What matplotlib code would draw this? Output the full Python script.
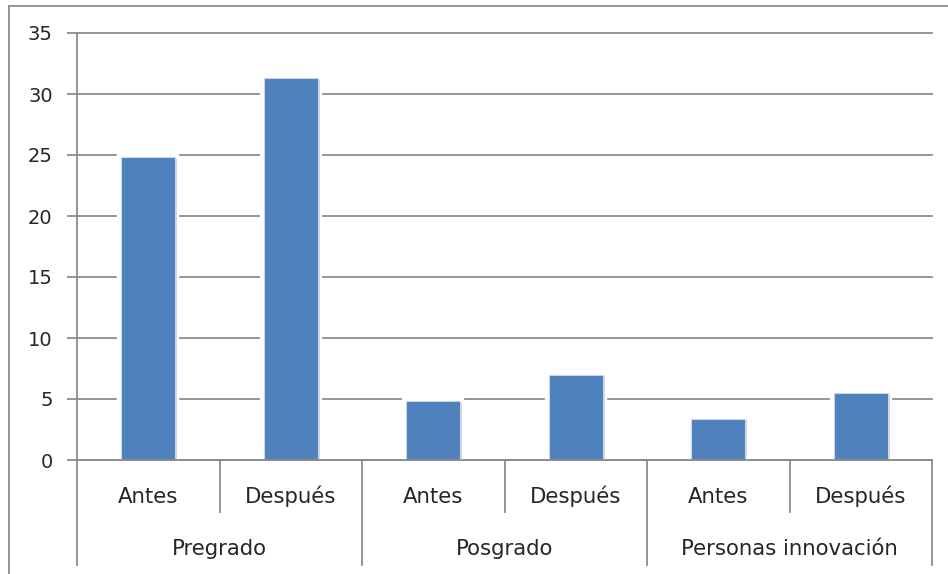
import matplotlib
matplotlib.use("Agg")
import matplotlib.pyplot as plt
from matplotlib.lines import Line2D
from matplotlib import patheffects as pe
from matplotlib.transforms import blended_transform_factory

# Data
groups = ["Pregrado", "Posgrado", "Personas innovación"]
periods = ["Antes", "Después"]
values = [24.8, 31.3, 4.8, 7.0, 3.4, 5.5]
y_ticks = [0, 5, 10, 15, 20, 25, 30, 35]

W, H = 948, 574
fig = plt.figure(figsize=(W / 100, H / 100), dpi=100)
fig.patch.set_facecolor("white")

# plot area in pixel coordinates
left_px, right_px, top_px, base_px = 77, 932, 33, 460
ax = fig.add_axes([left_px / W, 1 - base_px / H,
                   (right_px - left_px) / W, (base_px - top_px) / H])

grid_col = "#8c8c8c"
txt_col = "#262626"
font = "DejaVu Sans"

n = len(values)
x = list(range(n))
bars = ax.bar(x, values, width=0.38, color="#4f81bd", edgecolor="#c9d7ea",
              linewidth=0.8, zorder=3)
for b in bars:
    b.set_path_effects([
        pe.Stroke(linewidth=6, foreground="white"),
        pe.SimplePatchShadow(offset=(1.5, -1.0), shadow_rgbFace="#8a8a8a",
                             alpha=0.35),
        pe.Normal(),
    ])

ax.set_xlim(-0.5, n - 0.5)
ax.set_ylim(0, 35)
ax.set_yticks(y_ticks)
ax.set_yticklabels([str(t) for t in y_ticks], fontsize=14, color=txt_col,
                   family=font)
ax.yaxis.grid(True, color=grid_col, linewidth=1.3, zorder=0)
for gl in ax.get_ygridlines():
    gl.set_clip_on(False)
ax.set_axisbelow(True)
ax.tick_params(axis="y", length=7, width=1.3, color=grid_col, pad=10.5)
ax.tick_params(axis="x", length=0, labelbottom=False)

for s in ["top", "right"]:
    ax.spines[s].set_visible(False)
ax.spines["left"].set_color(grid_col)
ax.spines["left"].set_linewidth(1.3)
ax.spines["bottom"].set_color(grid_col)
ax.spines["bottom"].set_linewidth(1.3)
ax.spines["bottom"].set_zorder(5)

# multi-level category axis below the plot
tr = blended_transform_factory(ax.transData, fig.transFigure)


def fy(py):
    return 1 - py / H


inner_bottom = 512
outer_bottom = 565
for i in range(n + 1):
    xb = i - 0.5
    yb = outer_bottom if i % 2 == 0 else inner_bottom
    fig.add_artist(Line2D([xb, xb], [fy(base_px), fy(yb)], transform=tr,
                          color=grid_col, linewidth=1.3))

for i, v in enumerate(values):
    fig.text(i, fy(503), periods[i % 2], transform=tr, ha="center",
             va="baseline", fontsize=15.3, color=txt_col, family=font)

for g, name in enumerate(groups):
    fig.text(2 * g + 0.5, fy(555), name, transform=tr, ha="center",
             va="baseline", fontsize=15.3, color=txt_col, family=font)

# chart frame
fx0 = 9 / W
fy0 = fy(6)
fig.add_artist(Line2D([fx0, fx0], [0, fy0], transform=fig.transFigure,
                      color="#8c8c8c", linewidth=1.3))
fig.add_artist(Line2D([fx0, 1], [fy0, fy0], transform=fig.transFigure,
                      color="#8c8c8c", linewidth=1.3))

fig.savefig("out.png", dpi=100, facecolor="white")
